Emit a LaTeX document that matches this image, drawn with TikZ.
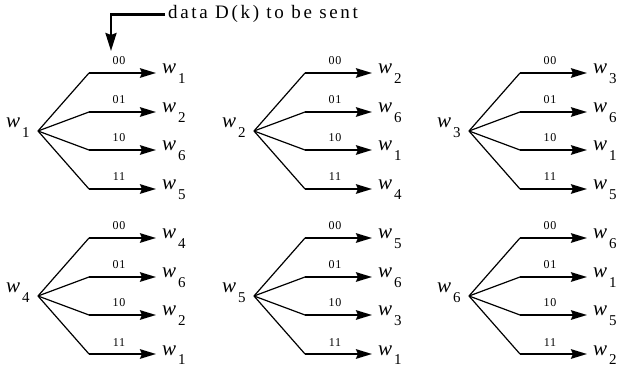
\documentclass[tikz,border=0pt]{standalone}
\usepackage{fontspec}
\setmainfont{Liberation Serif}
\usetikzlibrary{arrows.meta}
\newcommand{\wlab}[1]{{\fontsize{21}{21}\selectfont\itshape w}\kern2pt\raisebox{-9.5pt}{\fontsize{15}{15}\selectfont #1}}
\begin{document}
\begin{tikzpicture}[x=1pt,y=-1pt]
\tikzset{
  diag/.style={line width=1.2pt},
  branch/.style={line width=2.1pt,-{Stealth[length=16pt,width=9.5pt,inset=2pt]}},
  codelab/.style={font=\fontsize{12}{12}\selectfont\addfontfeature{LetterSpace=6}, anchor=base, inner sep=0pt},
  wnode/.style={anchor=base west, inner sep=0pt},
}
\useasboundingbox (0,0) rectangle (621,371);
\foreach \n/\ax/\ay/\ta/\tb/\tc/\td in {1/38/131/1/2/6/5, 2/254/131/2/6/1/4, 3/469/131/3/6/1/5, 4/38/296/4/6/2/1, 5/254/296/5/6/3/1, 6/469/296/6/1/5/2} {
  \coordinate (a\n) at (\ax,\ay);
  \node[wnode] (s\n) at (\ax-32,\ay-3) {\wlab{\n}};
  \foreach \bi/\dyy/\cod/\tg in {1/-58/00/\ta, 2/-19/01/\tb, 3/19/10/\tc, 4/58/11/\td} {
    \coordinate (c\n\bi) at (\ax+51,\ay+\dyy);
    \coordinate (e\n\bi) at (\ax+118,\ay+\dyy);
    \node[wnode] (t\n\bi) at (\ax+124,\ay+\dyy+1) {\wlab{\tg}};
    \node[codelab] (l\n\bi) at (\ax+81,\ay+\dyy-8) {\cod};
    \draw[diag] (a\n) -- (c\n\bi);
    \draw[branch] (c\n\bi) -- (e\n\bi);
  }
}
\node[anchor=base west, inner sep=0pt, font=\fontsize{19}{19}\selectfont\addfontfeature{LetterSpace=14}] (data) at (168,19) {data D(k) to be sent};
\coordinate (tip) at (111,51);
\draw[line width=2.5pt, -{Stealth[length=18pt,width=11pt,inset=2pt]}] ([xshift=-3pt]data.west) -| (tip);
\end{tikzpicture}
\end{document}
